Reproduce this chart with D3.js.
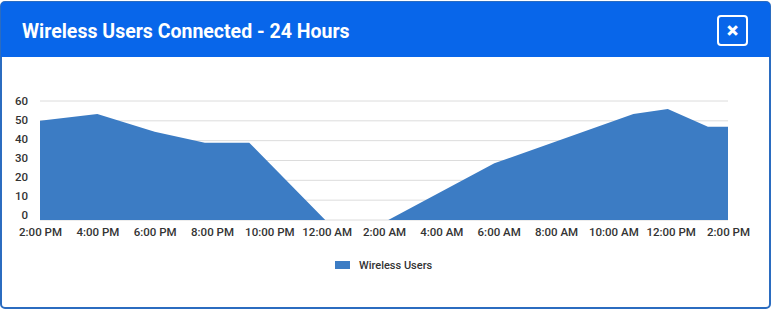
<!DOCTYPE html>
<html>
<head>
<meta charset="utf-8">
<script src="https://cdn.jsdelivr.net/npm/d3@7"></script>
<style>
  html, body { margin: 0; padding: 0; background: #fff; }
  svg { display: block; }
</style>
</head>
<body>
<div id="chart"></div>
<script>
// Wireless users over 24 hours (area chart inside a modal card)

// Data: hours since 2:00 PM, and user counts
const hours = [0, 2, 4, 5.75, 7.3, 9.95, 12.15, 15.85, 20.7, 21.9, 23.3, 24]
const users = [50, 53.5, 44.5, 39, 39, 0, 0, 28.6, 53.5, 56, 47, 47]

const xTicks = [0, 2, 4, 6, 8, 10, 12, 14, 16, 18, 20, 22, 24]
const xTickLabels = ["2:00 PM", "4:00 PM", "6:00 PM", "8:00 PM", "10:00 PM", "12:00 AM",
  "2:00 AM", "4:00 AM", "6:00 AM", "8:00 AM", "10:00 AM", "12:00 PM", "2:00 PM"]
const yTicks = [0, 10, 20, 30, 40, 50, 60]

const title = "Wireless Users Connected - 24 Hours"
const seriesName = "Wireless Users"

const CONFIG = {
  width: 772,
  height: 310,
  plot: { left: 40, right: 728, top: 101, bottom: 220 },
  colors: {
    header: "#0866ea",
    border: "#2b6cc0",
    area: "#3c7cc4",
    grid: "#dcdcdc",
    text: "#333"
  },
  font: "Roboto, 'Noto Sans', sans-serif"
}

const data = hours.map((h, i) => ({ h, v: users[i] }))

const svg = d3.select("#chart").append("svg")
  .attr("width", CONFIG.width)
  .attr("height", CONFIG.height)

// card + header
svg.append("rect")
  .attr("x", 1).attr("y", 2)
  .attr("width", CONFIG.width - 3).attr("height", CONFIG.height - 4)
  .attr("rx", 4)
  .attr("fill", "#fff")
  .attr("stroke", CONFIG.colors.border)
  .attr("stroke-width", 2)

svg.append("path")
  .attr("d", "M1,6 Q1,2 5,2 L766,2 Q770,2 770,6 L770,57 L1,57 Z")
  .attr("fill", CONFIG.colors.header)

svg.append("text")
  .attr("x", 22).attr("y", 38)
  .attr("fill", "#fff")
  .style("font-family", CONFIG.font)
  .style("font-weight", 700)
  .style("font-size", "19.5px")
  .text(title)

// close button
svg.append("rect")
  .attr("x", 718).attr("y", 16)
  .attr("width", 29).attr("height", 29)
  .attr("rx", 3)
  .attr("fill", "none")
  .attr("stroke", "#fff")
  .attr("stroke-width", 2)
svg.append("text")
  .attr("x", 732.5).attr("y", 37.5)
  .attr("fill", "#fff")
  .attr("text-anchor", "middle")
  .style("font-family", CONFIG.font)
  .style("font-weight", 900)
  .style("font-size", "22px")
  .text("×")

// scales
const p = CONFIG.plot
const x = d3.scaleLinear().domain([0, 24]).range([p.left, p.right])
const y = d3.scaleLinear().domain([0, 60]).range([p.bottom, p.top])
// tick labels sit slightly above the gridlines in the original
const yLabel = d3.scaleLinear().domain([0, 60]).range([p.bottom - 5, p.top])

// grid
svg.append("g")
  .selectAll("line")
  .data(yTicks)
  .join("line")
  .attr("x1", p.left).attr("x2", p.right)
  .attr("y1", d => y(d)).attr("y2", d => y(d))
  .attr("stroke", CONFIG.colors.grid)
  .attr("stroke-width", 1)

// area
const area = d3.area()
  .x(d => x(d.h))
  .y0(y(0))
  .y1(d => y(d.v))

svg.append("path")
  .datum(data)
  .attr("d", area)
  .attr("fill", CONFIG.colors.area)

// axes
const xAxis = svg.append("g")
  .attr("transform", `translate(0, ${p.bottom})`)
  .call(d3.axisBottom(x)
    .tickValues(xTicks)
    .tickFormat((d, i) => xTickLabels[i])
    .tickSize(0)
    .tickPadding(8))
xAxis.select(".domain").remove()

const yAxis = svg.append("g")
  .attr("transform", `translate(${p.left - 12}, 0)`)
  .call(d3.axisLeft(yLabel)
    .tickValues(yTicks)
    .tickSize(0)
    .tickPadding(0))
yAxis.select(".domain").remove()

svg.selectAll(".tick text")
  .attr("fill", CONFIG.colors.text)
  .style("font-family", CONFIG.font)
  .style("font-weight", 500)
  .style("font-size", "11.5px")

// legend
const legend = svg.append("g").attr("transform", "translate(335, 265)")
legend.append("rect")
  .attr("x", 0).attr("y", -4)
  .attr("width", 15).attr("height", 8)
  .attr("fill", CONFIG.colors.area)
legend.append("text")
  .attr("x", 24).attr("y", 4)
  .attr("fill", CONFIG.colors.text)
  .style("font-family", CONFIG.font)
  .style("font-weight", 500)
  .style("font-size", "11px")
  .text(seriesName)
</script>
</body>
</html>
